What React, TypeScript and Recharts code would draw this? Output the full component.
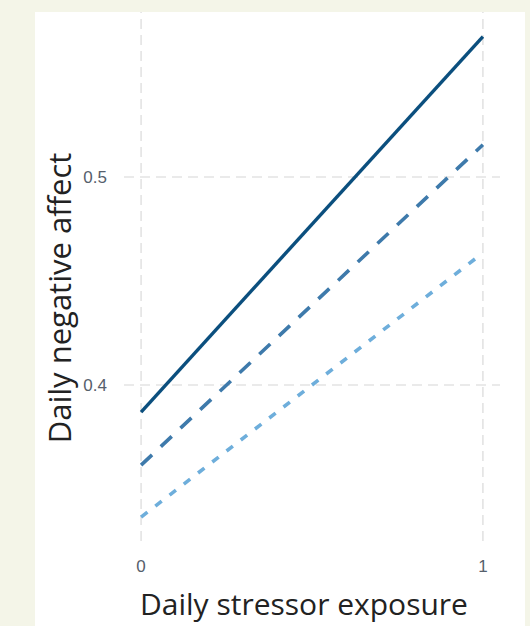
import React from 'react';
import { LineChart, Line, XAxis, YAxis, ReferenceLine } from 'recharts';

const exposure = [0, 1];
const highSeries = [0.387, 0.5675];
const midSeries = [0.3615, 0.5155];
const lowSeries = [0.3365, 0.4635];
const xTicks = [0, 1];
const yTicks = [0.4, 0.5];

const data = exposure.map((x, i) => ({
  x,
  high: highSeries[i],
  mid: midSeries[i],
  low: lowSeries[i],
}));

const FONT = '"Open Sans", "Noto Sans", sans-serif';
const TICK_FONT = '"Liberation Sans", Arial, sans-serif';
const GRID = '#e3e3e3';

const XTick = (props: any) => {
  const { x, y, payload } = props;
  return (
    <text x={x} y={y} dy={23} textAnchor="middle" fill="#56606c" fontSize={17} fontFamily={TICK_FONT}>
      {payload.value}
    </text>
  );
};

const YTick = (props: any) => {
  const { y, payload } = props;
  return (
    <text x={107} y={y} dy={6} textAnchor="end" fill="#56606c" fontSize={17} fontFamily={TICK_FONT}>
      {payload.value.toFixed(1)}
    </text>
  );
};

const XTitle = () => (
  <text x={304} y={615} textAnchor="middle" fill="#222" fontSize={30} fontFamily={FONT}>
    Daily stressor exposure
  </text>
);

const YTitle = () => {
  const cx = 71;
  const cy = 298;
  return (
    <text x={cx} y={cy} transform={`rotate(-90 ${cx} ${cy})`} textAnchor="middle" fill="#222" fontSize={31} fontFamily={FONT}>
      Daily negative affect
    </text>
  );
};

export default function App() {
  return (
    <div style={{ position: 'absolute', left: 0, top: 0, width: 530, height: 626, background: '#f4f5e8', overflow: 'hidden' }}>
      <div style={{ position: 'absolute', left: 35, top: 12, width: 490, height: 614, background: '#ffffff' }} />
      <div style={{ position: 'absolute', left: 0, top: 0 }}>
        <LineChart width={530} height={626} data={data} margin={{ top: 12, right: 30, bottom: 0, left: 0 }}>
          <XAxis
            dataKey="x"
            type="number"
            domain={[-0.05, 1.05]}
            ticks={xTicks}
            axisLine={false}
            tickLine={false}
            height={85}
            tick={<XTick />}
            label={{ content: <XTitle /> } as any}
          />
          <YAxis
            type="number"
            domain={[0.325, 0.5793]}
            ticks={yTicks}
            axisLine={false}
            tickLine={false}
            width={124}
            tick={<YTick />}
            label={{ content: <YTitle /> } as any}
          />
          {xTicks.map((t) => (
            <ReferenceLine key={'vx' + t} x={t} stroke={GRID} strokeWidth={1.6} strokeDasharray="10 6" />
          ))}
          {yTicks.map((t) => (
            <ReferenceLine key={'hy' + t} y={t} stroke={GRID} strokeWidth={1.6} strokeDasharray="10 6" />
          ))}
          <Line dataKey="high" stroke="#0b4f7e" strokeWidth={3.4} dot={false} isAnimationActive={false} />
          <Line dataKey="mid" stroke="#3e7aab" strokeWidth={3.6} strokeDasharray="15 12" dot={false} isAnimationActive={false} />
          <Line dataKey="low" stroke="#6eaedb" strokeWidth={3.6} strokeDasharray="8 10" dot={false} isAnimationActive={false} />
        </LineChart>
      </div>
    </div>
  );
}
